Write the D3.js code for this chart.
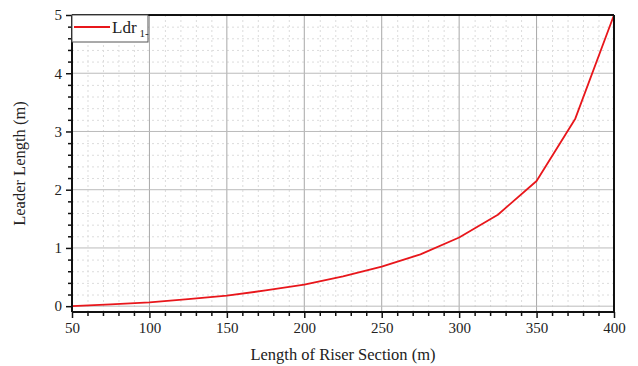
<!DOCTYPE html>
<html>
<head>
<meta charset="utf-8">
<script src="https://cdn.jsdelivr.net/npm/d3@7"></script>
<style>
  html, body { margin: 0; padding: 0; background: #fff; }
  svg { display: block; font-family: "Times New Roman", "Liberation Serif", Tinos, "DejaVu Serif", serif; }
</style>
</head>
<body>
<svg id="chart" width="638" height="366"></svg>
<script>
// Riser section length (m) and corresponding leader length (m)
const riserLength = [50, 75, 100, 125, 150, 175, 200, 225, 250, 275, 300, 325, 350, 375, 400];
const leaderLength = [0.0, 0.03, 0.065, 0.12, 0.18, 0.27, 0.37, 0.51, 0.68, 0.89, 1.18, 1.57, 2.15, 3.22, 5.0];
const xTicks = [50, 100, 150, 200, 250, 300, 350, 400];
const yTicks = [0, 1, 2, 3, 4, 5];
const seriesName = "Ldr";
const seriesSub = "1-";

const FONT = "'Times New Roman', 'Liberation Serif', Tinos, 'DejaVu Serif', serif";
const svg = d3.select("#chart");
const m = { left: 72, right: 614, top: 15, bottom: 312 };

const x = d3.scaleLinear().domain([50, 400]).range([m.left, m.right]);
const y = d3.scaleLinear().domain([-0.1, 5]).range([m.bottom, m.top]);

const xMinor = d3.range(50, 401, 10).filter(v => v % 50 !== 0);
const yMinor = d3.range(0, 5.001, 0.2).map(v => +v.toFixed(1)).filter(v => Math.abs(v - Math.round(v)) > 1e-6);

const grid = svg.append("g");
// minor dotted grid
grid.selectAll(".gxm").data(xMinor).join("line")
  .attr("x1", d => x(d) + 0.5).attr("x2", d => x(d) + 0.5)
  .attr("y1", m.top).attr("y2", m.bottom)
  .attr("stroke", "#dcdcdc").attr("stroke-width", 1).attr("stroke-dasharray", "2,3");
grid.selectAll(".gym").data(yMinor).join("line")
  .attr("x1", m.left).attr("x2", m.right)
  .attr("y1", d => y(d) + 0.5).attr("y2", d => y(d) + 0.5)
  .attr("stroke", "#dcdcdc").attr("stroke-width", 1).attr("stroke-dasharray", "2,3");
// major grid
grid.selectAll(".gx").data(xTicks.slice(1, -1)).join("line")
  .attr("x1", d => x(d)).attr("x2", d => x(d))
  .attr("y1", m.top).attr("y2", m.bottom)
  .attr("stroke", "#a8a8a8").attr("stroke-width", 1);
grid.selectAll(".gy").data(yTicks.slice(0, -1)).join("line")
  .attr("x1", m.left).attr("x2", m.right)
  .attr("y1", d => y(d)).attr("y2", d => y(d))
  .attr("stroke", "#bbbbbb").attr("stroke-width", 1);

// data line
svg.append("path")
  .datum(riserLength.map((r, i) => [r, leaderLength[i]]))
  .attr("fill", "none").attr("stroke", "#e8161b").attr("stroke-width", 1.8)
  .attr("stroke-linejoin", "round")
  .attr("d", d3.line().x(d => x(d[0])).y(d => y(d[1])));

// frame: top and right
svg.append("line").attr("x1", m.left).attr("x2", m.right).attr("y1", m.top).attr("y2", m.top)
  .attr("stroke", "#111").attr("stroke-width", 2);
svg.append("line").attr("x1", m.right).attr("x2", m.right).attr("y1", m.top).attr("y2", m.bottom)
  .attr("stroke", "#111").attr("stroke-width", 2);

// axes
const xAxis = svg.append("g").attr("transform", `translate(0,${m.bottom})`)
  .call(d3.axisBottom(x).tickValues(xTicks).tickSize(6).tickPadding(4).tickFormat(d3.format("d")));
svg.append("g").attr("transform", `translate(0,${m.bottom})`)
  .call(d3.axisBottom(x).tickValues(xMinor).tickSize(4).tickFormat(""))
  .call(g => g.select(".domain").remove());
const yAxis = svg.append("g").attr("transform", `translate(${m.left},0)`)
  .call(d3.axisLeft(y).tickValues(yTicks).tickSize(6).tickPadding(4).tickFormat(d3.format("d")));
svg.append("g").attr("transform", `translate(${m.left},0)`)
  .call(d3.axisLeft(y).tickValues(yMinor).tickSize(4).tickFormat(""))
  .call(g => g.select(".domain").remove());

svg.selectAll("g").attr("font-family", null);
svg.selectAll(".domain").attr("stroke", "#111").attr("stroke-width", 2);
svg.selectAll(".tick line").attr("stroke", "#111").attr("stroke-width", 1.5);
svg.selectAll(".tick text").attr("fill", "#222").attr("font-size", 15).style("font-family", FONT);
xAxis.selectAll(".domain").attr("d", `M${m.left},0H${m.right}`);
yAxis.selectAll(".domain").attr("d", `M0,${m.top}V${m.bottom}`);

// axis titles
svg.append("text").attr("x", (m.left + m.right) / 2).attr("y", 360)
  .attr("text-anchor", "middle").attr("fill", "#222").attr("font-size", 16.5).style("font-family", FONT)
  .text("Length of Riser Section (m)");
svg.append("text").attr("transform", `translate(25,${(m.top + m.bottom) / 2}) rotate(-90)`)
  .attr("text-anchor", "middle").attr("fill", "#222").attr("font-size", 16.5).style("font-family", FONT)
  .text("Leader Length (m)");

// legend
const lg = svg.append("g");
lg.append("rect").attr("x", m.left).attr("y", m.top).attr("width", 76).attr("height", 27)
  .attr("fill", "#fff").attr("stroke", "#555").attr("stroke-width", 1);
lg.append("line").attr("x1", m.left + 2).attr("x2", m.left + 38).attr("y1", 27).attr("y2", 27)
  .attr("stroke", "#e8161b").attr("stroke-width", 1.8);
const lt = lg.append("text").attr("x", m.left + 40).attr("y", 33).attr("fill", "#222")
  .attr("font-size", 17).style("font-family", FONT);
lt.append("tspan").text(seriesName);
lt.append("tspan").attr("dx", 3).attr("dy", 4).attr("font-size", 11).text(seriesSub);
</script>
</body>
</html>
